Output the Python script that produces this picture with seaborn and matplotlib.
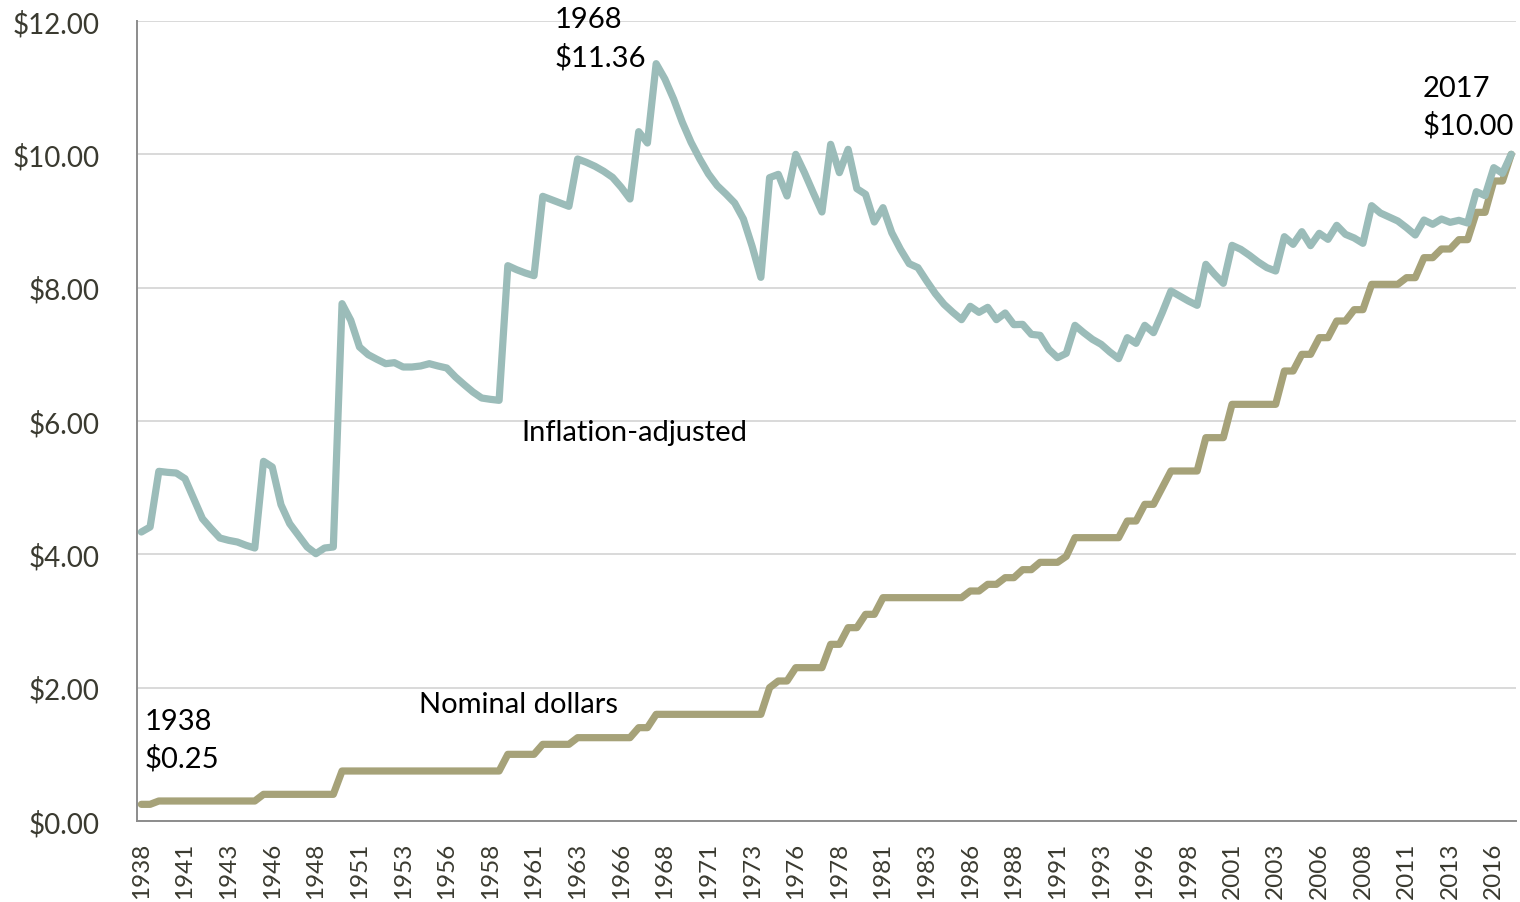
import numpy as np
import pandas as pd
import matplotlib
matplotlib.use("Agg")
import matplotlib.pyplot as plt
import seaborn as sns

# Half-year periods, first period = second half of 1938, last = 2017
nominal = (
    [0.25] * 2 + [0.30] * 12 + [0.40] * 9 + [0.75] * 19 + [1.00] * 4 + [1.15] * 4
    + [1.25] * 7 + [1.40] * 2 + [1.60] * 13 + [2.00] * 1 + [2.10] * 2 + [2.30] * 4
    + [2.65] * 2 + [2.90] * 2 + [3.10] * 2 + [3.35] * 10 + [3.45] * 2 + [3.55] * 2
    + [3.65] * 2 + [3.77] * 2 + [3.88] * 3 + [3.97] * 1 + [4.25] * 6 + [4.50] * 2
    + [4.75] * 2 + [5.00] * 1 + [5.25] * 4 + [5.75] * 3 + [6.25] * 6 + [6.75] * 2
    + [7.00] * 2 + [7.25] * 2 + [7.50] * 2 + [7.67] * 2 + [8.05] * 4 + [8.15] * 2
    + [8.45] * 2 + [8.58] * 2 + [8.72] * 2 + [9.13] * 2 + [9.60] * 2 + [10.00] * 1
)

inflation_adjusted = [
    4.335, 4.41, 5.245, 5.23, 5.22, 5.135, 4.835, 4.535, 4.385, 4.245,
    4.21, 4.185, 4.135, 4.095, 5.395, 5.31, 4.745, 4.46, 4.285, 4.11,
    4.01, 4.095, 4.11, 7.76, 7.51, 7.11, 6.995, 6.925, 6.86, 6.875,
    6.81, 6.81, 6.825, 6.86, 6.825, 6.795, 6.66, 6.545, 6.435, 6.345,
    6.325, 6.31, 8.33, 8.27, 8.22, 8.18, 9.37, 9.32, 9.27, 9.22,
    9.93, 9.88, 9.82, 9.745, 9.655, 9.505, 9.33, 10.34, 10.17, 11.36,
    11.13, 10.83, 10.48, 10.18, 9.93, 9.705, 9.53, 9.405, 9.27, 9.03,
    8.62, 8.155, 9.65, 9.70, 9.375, 10.00, 9.725, 9.425, 9.135, 10.15,
    9.725, 10.075, 9.485, 9.40, 8.985, 9.20, 8.825, 8.575, 8.36, 8.30,
    8.10, 7.91, 7.75, 7.63, 7.52, 7.72, 7.63, 7.705, 7.52, 7.62,
    7.445, 7.45, 7.30, 7.285, 7.075, 6.95, 7.015, 7.435, 7.325, 7.225,
    7.15, 7.035, 6.935, 7.25, 7.165, 7.435, 7.325, 7.625, 7.95, 7.875,
    7.80, 7.735, 8.35, 8.20, 8.065, 8.635, 8.575, 8.485, 8.385, 8.30,
    8.25, 8.765, 8.65, 8.84, 8.63, 8.815, 8.725, 8.935, 8.80, 8.745,
    8.665, 9.23, 9.12, 9.06, 9.00, 8.90, 8.79, 9.015, 8.95, 9.03,
    8.98, 9.01, 8.97, 9.44, 9.38, 9.80, 9.715, 10.00,
]

tick_labels = [
    "1938", "1941", "1943", "1946", "1948", "1951", "1953", "1956", "1958",
    "1961", "1963", "1966", "1968", "1971", "1973", "1976", "1978", "1981",
    "1983", "1986", "1988", "1991", "1993", "1996", "1998", "2001", "2003",
    "2006", "2008", "2011", "2013", "2016",
]
tick_every = 5
y_ticks = [0, 2, 4, 6, 8, 10, 12]

series_names = ["Nominal dollars", "Inflation-adjusted"]
series_colors = ["#a6a279", "#9bbcb9"]

sns.set_theme(style="white")
plt.rcParams["font.family"] = ["Lato", "DejaVu Sans"]

W, H = 1520, 903
fig = plt.figure(figsize=(W / 100, H / 100), dpi=100)
left, right, top, bottom = 137, 1515.6, 22, 822
ax = fig.add_axes([left / W, 1 - bottom / H, (right - left) / W, (bottom - top) / H])

df = pd.DataFrame({
    "period": np.arange(len(nominal)),
    "Nominal dollars": nominal,
    "Inflation-adjusted": inflation_adjusted,
})
long = df.melt(id_vars="period", var_name="series", value_name="wage")

sns.lineplot(
    data=long, x="period", y="wage", hue="series", hue_order=series_names,
    palette=series_colors, linewidth=5.2, legend=False, ax=ax,
    solid_capstyle="round", solid_joinstyle="round",
)

ax.set_xlim(-0.5, len(nominal) - 0.5)
ax.set_ylim(0, 12)
ax.set_xlabel("")
ax.set_ylabel("")

ax.set_yticks(y_ticks)
ax.set_yticklabels([f"${v:.2f}" for v in y_ticks])
ax.set_xticks(np.arange(0, len(nominal), tick_every)[: len(tick_labels)])
ax.set_xticklabels(tick_labels, rotation=90)

tick_color = "#3a3a30"
ax.tick_params(axis="y", length=0, pad=27, labelsize=20, labelcolor=tick_color)
ax.tick_params(axis="x", length=0, pad=15, labelsize=17.5, labelcolor=tick_color)

ax.yaxis.grid(True, color="#d9d9d9", linewidth=1.4)
ax.xaxis.grid(False)
ax.set_axisbelow(True)
for s in ["top", "right"]:
    ax.spines[s].set_visible(False)
for s in ["left", "bottom"]:
    ax.spines[s].set_color("#8c8c8c")
    ax.spines[s].set_linewidth(1.4)

ann_size = 21
def label(x, y, s):
    ax.text(x, y, s, fontsize=ann_size, color="black", ha="left", va="center", clip_on=False)

label(47.4, 12.03, "1968")
label(47.4, 11.47, "$11.36")
label(146.85, 11.00, "2017")
label(146.85, 10.44, "$10.00")
label(0.41, 1.505, "1938")
label(0.41, 0.945, "$0.25")
label(31.85, 1.755, "Nominal dollars")
label(43.6, 5.835, "Inflation-adjusted")

fig.savefig("out.png", dpi=100)
